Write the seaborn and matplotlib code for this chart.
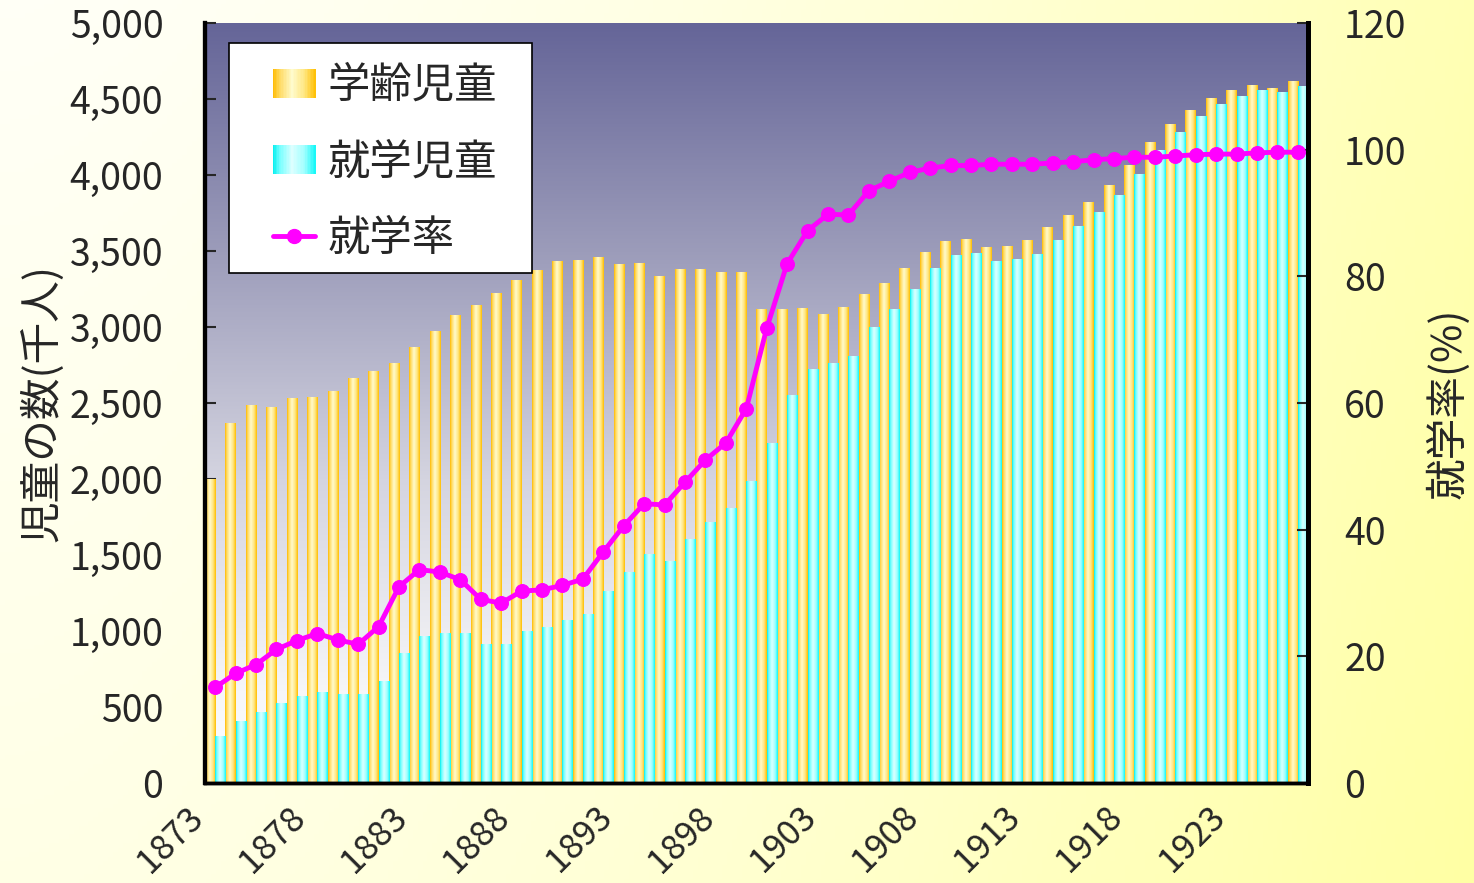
import numpy as np
import pandas as pd
import matplotlib
matplotlib.use('Agg')
import matplotlib.pyplot as plt
import seaborn as sns
from matplotlib.colors import LinearSegmentedColormap
from matplotlib.ticker import MultipleLocator, FuncFormatter
from matplotlib.patches import Rectangle
from matplotlib.lines import Line2D
from matplotlib.legend_handler import HandlerBase
from matplotlib.transforms import ScaledTranslation

# data (1873 - 1926)
years = list(range(1873, 1927))
school_age = [2000, 2365, 2485, 2470, 2530, 2537, 2577, 2660, 2708, 2760,
              2867, 2972, 3078, 3143, 3223, 3309, 3375, 3434, 3439, 3459,
              3411, 3418, 3334, 3380, 3380, 3359, 3359, 3118, 3118, 3125,
              3085, 3131, 3216, 3289, 3382, 3487, 3562, 3575, 3522, 3529,
              3569, 3654, 3734, 3819, 3931, 4063, 4215, 4334, 4426, 4505,
              4558, 4591, 4571, 4617]
enrolled = [305, 405, 465, 525, 570, 597, 585, 585, 670, 852,
            964, 984, 984, 911, 911, 998, 1023, 1070, 1109, 1261,
            1386, 1505, 1459, 1605, 1716, 1805, 1984, 2234, 2550, 2722,
            2761, 2807, 3000, 3118, 3250, 3384, 3470, 3483, 3430, 3443,
            3476, 3569, 3661, 3753, 3866, 4004, 4162, 4281, 4386, 4466,
            4518, 4558, 4545, 4585]
rate = [15.1, 17.3, 18.7, 21.1, 22.5, 23.6, 22.6, 21.9, 24.7, 31.0,
        33.7, 33.3, 32.1, 29.0, 28.4, 30.3, 30.5, 31.2, 32.2, 36.5,
        40.6, 44.1, 43.9, 47.5, 51.0, 53.7, 59.1, 71.8, 82.0, 87.2,
        89.8, 89.7, 93.5, 95.0, 96.4, 97.1, 97.5, 97.5, 97.7, 97.7,
        97.7, 97.9, 98.1, 98.4, 98.6, 98.8, 98.8, 99.0, 99.2, 99.3,
        99.3, 99.5, 99.6, 99.6]
series_names = ['学齢児童', '就学児童']
rate_name = '就学率'

df = pd.DataFrame({'year': years * 2,
                   'value': school_age + enrolled,
                   'series': [series_names[0]] * len(years) + [series_names[1]] * len(years)})
df_rate = pd.DataFrame({'pos': np.arange(len(years)), 'rate': rate})

sns.set_style('white')
plt.rcParams['font.family'] = ['Noto Sans CJK JP', 'DejaVu Sans']

gold_cmap = LinearSegmentedColormap.from_list(
    'gold', [(0, '#FFBA00'), (0.15, '#FFD95E'), (0.45, '#FFFBCC'),
             (0.75, '#FFE680'), (1, '#FFBE00')])
cyan_cmap = LinearSegmentedColormap.from_list(
    'cyan', [(0, '#00EEEE'), (0.15, '#70FFFF'), (0.45, '#DCFFFF'),
             (0.75, '#A0FFFF'), (1, '#10F8F8')])
plot_bg = LinearSegmentedColormap.from_list(
    'plotbg', [(0, '#FFFFFF'), (0.12, '#F6F6F8'), (0.4, '#D4D4E0'),
               (0.7, '#9C9CBA'), (1, '#656598')])
fig_bg = LinearSegmentedColormap.from_list('figbg', ['#FFFFF6', '#FFFFA4'])

fig = plt.figure(figsize=(14.74, 8.83), dpi=100)

# figure background gradient (pale cream -> yellow towards the right)
bg = fig.add_axes([0, 0, 1, 1], zorder=-10)
gx, gy = np.meshgrid(np.linspace(0, 1, 300), np.linspace(0, 1, 200))
bg.imshow(np.clip(0.8 * gx ** 1.6 + 0.2 * gy, 0, 1), cmap=fig_bg, aspect='auto',
          extent=[0, 1, 0, 1], origin='upper', vmin=0, vmax=1)
bg.axis('off')

ax = fig.add_axes([205 / 1474, 1 - 783 / 883, 1103 / 1474, 760 / 883])
ax.imshow(np.linspace(0, 1, 256).reshape(-1, 1), cmap=plot_bg, aspect='auto',
          extent=[0, 1, 0, 1], origin='lower', transform=ax.transAxes, zorder=0)

sns.barplot(data=df, x='year', y='value', hue='series', hue_order=series_names,
            palette={series_names[0]: '#FFD966', series_names[1]: '#80FFFF'},
            width=1.0, gap=0, ax=ax, legend=False, errorbar=None,
            saturation=1, linewidth=0)

# cylinder-like shading on each bar
strip = np.linspace(0, 1, 64).reshape(1, -1)
for cont, cmap in zip(ax.containers, [gold_cmap, cyan_cmap]):
    for bar in cont:
        x0, w, h = bar.get_x(), bar.get_width(), bar.get_height()
        ax.imshow(strip, cmap=cmap, aspect='auto', extent=[x0, x0 + w, 0, h],
                  zorder=1.5)

ax.set_xlim(-0.5, len(years) - 0.5)
ax.set_ylim(0, 5000)
ax.yaxis.set_major_locator(MultipleLocator(500))
ax.yaxis.set_major_formatter(FuncFormatter(lambda v, p: f'{int(v):,}'))
ax.tick_params(axis='y', direction='in', length=8, width=1.5, labelsize=27, pad=30)

bounds = np.arange(len(years) + 1) - 0.5
xlabels = [str(y) if (y - years[0]) % 5 == 0 else '' for y in years] + ['']
ax.set_xticks(bounds)
ax.set_xticklabels(xlabels, rotation=45, ha='right', va='center',
                   rotation_mode='anchor', fontsize=25)
ax.tick_params(axis='x', direction='out', length=9, width=1, pad=12)
shift = ScaledTranslation(-7 / 100, 0, fig.dpi_scale_trans)
for lab in ax.get_xticklabels():
    lab.set_transform(lab.get_transform() + shift)
ax.set_xlabel('')
ax.set_ylabel('児童の数(千人)', fontsize=30, labelpad=4)

ax2 = ax.twinx()
sns.lineplot(data=df_rate, x='pos', y='rate', ax=ax2, color='#FF00FF',
             linewidth=3.5, marker='o', markersize=10, markeredgecolor='#FF00FF',
             zorder=5)
ax2.set_ylim(0, 120)
ax2.set_xlim(-0.5, len(years) - 0.5)
ax2.yaxis.set_major_locator(MultipleLocator(20))
ax2.tick_params(axis='y', direction='in', length=8, width=1.5, labelsize=27, pad=26)
ax2.set_ylabel('就学率(%)', fontsize=30, labelpad=14)
ax2.set_xlabel('')

for a in (ax, ax2):
    a.spines['top'].set_visible(False)
    a.spines['left'].set_linewidth(3)
    a.spines['right'].set_linewidth(3.5)
    a.spines['bottom'].set_linewidth(2.5)
    for s in a.spines.values():
        s.set_color('black')


class GradHandler(HandlerBase):
    def __init__(self, cmap):
        super().__init__()
        self.cmap = cmap

    def create_artists(self, legend, orig_handle, xdescent, ydescent,
                       width, height, fontsize, trans):
        n = 30
        arts = []
        for k in range(n):
            arts.append(Rectangle((-xdescent + width * k / n, -ydescent),
                                  width / n * 1.1, height,
                                  facecolor=self.cmap((k + 0.5) / n),
                                  edgecolor='none', transform=trans))
        return arts


# legend frame drawn separately so its padding can match the reference
frame = Rectangle(((229 - 205) / 1103, (783 - 273) / 760), 303 / 1103, 230 / 760,
                  transform=ax2.transAxes, facecolor='white', edgecolor='black',
                  linewidth=1.2, zorder=9)
ax2.add_patch(frame)

h_gold = Rectangle((0, 0), 1, 1)
h_cyan = Rectangle((0, 0), 1, 1)
h_line = Line2D([], [], color='#FF00FF', linewidth=3.5, marker='o',
                markersize=10)
leg = ax2.legend([h_gold, h_cyan, h_line], series_names + [rate_name],
                 handler_map={h_gold: GradHandler(gold_cmap),
                              h_cyan: GradHandler(cyan_cmap)},
                 loc='upper left', bbox_to_anchor=((273 - 205) / 1103, (783 - 64) / 760),
                 borderaxespad=0, frameon=False, fontsize=30.5,
                 handlelength=1.0, handleheight=0.68, handletextpad=0.28,
                 labelspacing=0.76, borderpad=0)
leg.set_zorder(10)

fig.savefig('out.png', dpi=100)
